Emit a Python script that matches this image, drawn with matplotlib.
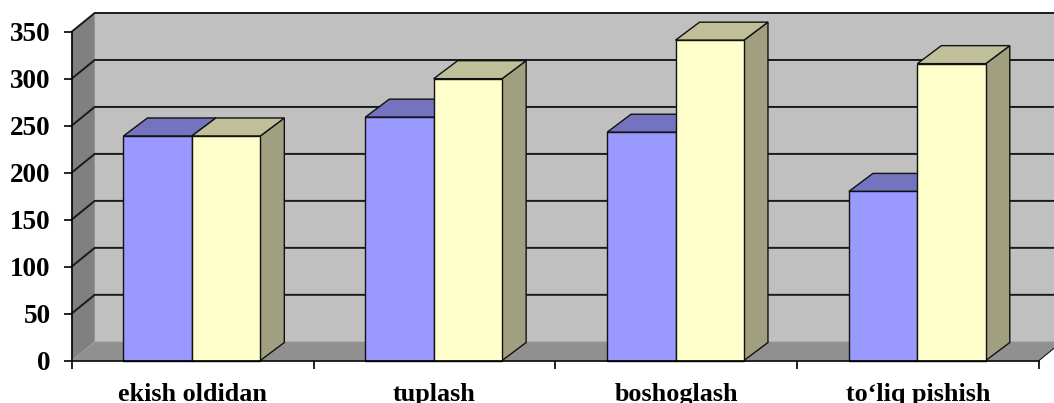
import matplotlib
matplotlib.use("Agg")
import matplotlib.pyplot as plt
import numpy as np

plt.rcParams["font.family"] = ["Liberation Serif", "DejaVu Serif"]

categories = ["ekish oldidan", "tuplash", "boshoglash", "to\u2018liq pishish"]
series_a = [239, 259, 243, 180]
series_b = [239, 300, 341, 316]
y_ticks = [0, 50, 100, 150, 200, 250, 300, 350]

W, H = 1054, 403
# plot area in pixels
X0, X1 = 71.7, 1039.0
Y0, Y350 = 360.5, 31.7
WALL_DX, WALL_DY = 23.0, 18.7
BAR_DX, BAR_DY = 24.0, 18.0
BAR_W = 0.283
BAR_SHIFT = -0.003

C_WALL = "#C0C0C0"
C_SIDE = "#808080"
C_FLOOR = "#909090"
C_GRID = "#1a1a1a"
COLORS = [("#9999FF", "#7373BF", "#6666AA"), ("#FFFFCC", "#BFBF99", "#A0A080")]

fig = plt.figure(figsize=(W / 100, H / 100), dpi=100, facecolor="white")
ax = fig.add_axes([X0 / W, 1 - Y0 / H, (X1 - X0) / W, (Y0 - Y350) / H])
ax.set_xlim(0, len(categories))
ax.set_ylim(0, 350)
ax.patch.set_visible(False)

# pixel depth -> data units
ux = len(categories) / (X1 - X0)
uy = 350 / (Y0 - Y350)
wdx, wdy = WALL_DX * ux, WALL_DY * uy
bdx, bdy = BAR_DX * ux, BAR_DY * uy
xmax = len(categories)
ytop = y_ticks[-1]

# walls and floor
ax.fill([0, wdx, xmax + wdx, xmax + wdx, wdx], [0, wdy, wdy, ytop + wdy, ytop + wdy],
        color=C_WALL, lw=0, zorder=1, clip_on=False)
ax.fill([0, wdx, wdx, 0], [0, wdy, ytop + wdy, ytop], color=C_SIDE, lw=0, zorder=1, clip_on=False)
ax.fill([0, wdx, xmax + wdx, xmax], [0, wdy, wdy, 0], color=C_FLOOR, lw=0, zorder=1, clip_on=False)

# gridlines run across the side wall and along the back wall
for v in y_ticks[1:]:
    ax.plot([0, wdx, xmax + wdx], [v, v + wdy, v + wdy], color=C_GRID, lw=1.4,
            zorder=2, clip_on=False, solid_joinstyle="miter")
ax.plot([0, wdx, xmax + wdx], [0, wdy, wdy], color="#A0A0A0", lw=0.5, zorder=2, clip_on=False)
ax.plot([xmax, xmax + wdx], [0, wdy], color=C_GRID, lw=0.8, zorder=2, clip_on=False)

# bars
x = np.arange(len(categories)) + 0.5
z = 3
for i, xc in enumerate(x):
    for j, vals in enumerate([series_a, series_b]):
        v = vals[i]
        left = xc + (j - 1) * BAR_W + BAR_SHIFT
        right = left + BAR_W
        front, top, side = COLORS[j]
        ax.fill([right, right + bdx, right + bdx, right], [0, bdy, v + bdy, v],
                facecolor=side, edgecolor="#111111", lw=1.0, zorder=z, clip_on=False)
        ax.fill([left, left + bdx, right + bdx, right], [v, v + bdy, v + bdy, v],
                facecolor=top, edgecolor="#111111", lw=1.0, zorder=z, clip_on=False)
        ax.bar(left, v, BAR_W, align="edge", color=front, edgecolor="#111111", lw=1.0,
               zorder=z + 1, clip_on=False)
        z += 2

# axes
for s in ["top", "right"]:
    ax.spines[s].set_visible(False)
for s in ["left", "bottom"]:
    ax.spines[s].set_color("black")
    ax.spines[s].set_linewidth(1.2)
    ax.spines[s].set_zorder(50)
ax.set_yticks(y_ticks)
ax.set_yticklabels([str(v) for v in y_ticks], fontsize=19.5, fontweight="bold")
ax.tick_params(axis="y", length=6, width=1.2, pad=9, zorder=50)
ax.set_xticks(np.arange(len(categories) + 1))
ax.set_xticklabels([])
ax.tick_params(axis="x", which="major", length=6, width=1.2)
ax.set_xticks(x, minor=True)
ax.set_xticklabels(categories, minor=True, fontsize=18.8, fontweight="bold")
ax.tick_params(axis="x", which="minor", length=0, pad=16.5)

fig.savefig("out.png", dpi=100)
